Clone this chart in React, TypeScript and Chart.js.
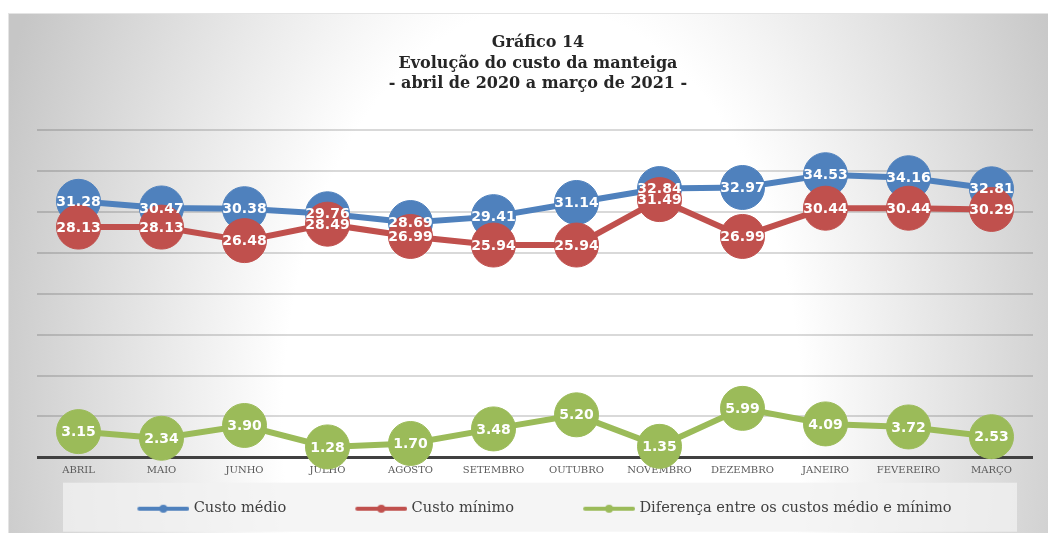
import React, { useEffect, useRef } from "react";
import { Chart, registerables } from "chart.js";

Chart.register(...registerables);

const MONTHS = ["ABRIL", "MAIO", "JUNHO", "JULHO", "AGOSTO", "SETEMBRO", "OUTUBRO", "NOVEMBRO", "DEZEMBRO", "JANEIRO", "FEVEREIRO", "MARÇO"];
const CUSTO_MEDIO = [31.28, 30.47, 30.38, 29.76, 28.69, 29.41, 31.14, 32.84, 32.97, 34.53, 34.16, 32.81];
const CUSTO_MINIMO = [28.13, 28.13, 26.48, 28.49, 26.99, 25.94, 25.94, 31.49, 26.99, 30.44, 30.44, 30.29];
const DIFERENCA = [3.15, 2.34, 3.9, 1.28, 1.7, 3.48, 5.2, 1.35, 5.99, 4.09, 3.72, 2.53];
const SERIES_NAMES = ["Custo médio", "Custo mínimo", "Diferença entre os custos médio e mínimo"];
const TITLE_LINES = ["Gráfico 14", "Evolução do custo da manteiga", "- abril de 2020 a março de 2021 -"];
const Y_MIN = 0;
const Y_MAX = 40;
const Y_STEP = 5;

const COLORS = ["#4f81bd", "#c0504d", "#9bbb59"];

function legendMarker(color: string) {
  const c = document.createElement("canvas");
  c.width = 112;
  c.height = 10;
  const ctx = c.getContext("2d")!;
  ctx.strokeStyle = color;
  ctx.lineWidth = 4;
  ctx.lineCap = "round";
  ctx.beginPath();
  ctx.moveTo(62, 5);
  ctx.lineTo(110, 5);
  ctx.stroke();
  ctx.fillStyle = color;
  ctx.beginPath();
  ctx.arc(86, 5, 4, 0, Math.PI * 2);
  ctx.fill();
  return c;
}

const valueLabels = {
  id: "valueLabels",
  afterDatasetsDraw(chart: any) {
    const ctx = chart.ctx;
    ctx.save();
    ctx.font = "bold 14px 'DejaVu Sans'";
    ctx.fillStyle = "#ffffff";
    ctx.textAlign = "center";
    ctx.textBaseline = "middle";
    chart.data.datasets.forEach((ds: any, i: number) => {
      const meta = chart.getDatasetMeta(i);
      meta.data.forEach((pt: any, j: number) => {
        ctx.fillText(Number(ds.data[j]).toFixed(2), pt.x, pt.y + 1);
      });
    });
    ctx.restore();
  },
};

const legendPanel = {
  id: "legendPanel",
  afterLayout(chart: any) {
    const lg = chart.legend;
    if (lg) {
      lg.left -= 22;
      lg.right -= 22;
    }
  },
  beforeDraw(chart: any) {
    const { ctx, chartArea } = chart;
    const lg = chart.legend;
    if (!lg) return;
    const cy = (lg.top + lg.bottom) / 2;
    ctx.save();
    ctx.fillStyle = "rgba(242,242,242,0.75)";
    ctx.fillRect(chartArea.left + 26, cy - 25, chartArea.right - chartArea.left - 42, 49);
    ctx.restore();
  },
};

export default function App() {
  const ref = useRef<HTMLCanvasElement>(null);

  useEffect(() => {
    if (!ref.current) return;
    const series = [CUSTO_MEDIO, CUSTO_MINIMO, DIFERENCA];
    const orders = [1, 0, 2];
    const chart = new Chart(ref.current, {
      type: "line",
      data: {
        labels: MONTHS,
        datasets: series.map((d, i) => ({
          label: SERIES_NAMES[i],
          data: d,
          borderColor: COLORS[i],
          backgroundColor: COLORS[i],
          pointBackgroundColor: COLORS[i],
          pointBorderColor: COLORS[i],
          borderWidth: 6,
          pointRadius: 22,
          pointBorderWidth: 1,
          pointHoverRadius: 22,
          tension: 0,
          clip: false as any,
          order: orders[i],
        })),
      },
      options: {
        responsive: false,
        animation: false,
        events: [],
        layout: { padding: { left: 29, right: 17, top: 0, bottom: 12 } },
        plugins: {
          title: {
            display: true,
            text: TITLE_LINES,
            color: "#262626",
            font: { family: "'DejaVu Serif'", weight: "bold", size: 16, lineHeight: 1.28 },
            padding: { top: 20, bottom: 35.5 },
          },
          legend: {
            display: true,
            position: "bottom",
            labels: {
              usePointStyle: true,
              pointStyleWidth: 106,
              padding: 12,
              color: "#404040",
              font: { family: "'DejaVu Serif'", size: 14.6 },
              sort: (a: any, b: any) => a.datasetIndex - b.datasetIndex,
              generateLabels: (chart: any) => {
                const items = Chart.defaults.plugins.legend.labels.generateLabels(chart);
                return items.map((it: any) => ({
                  ...it,
                  pointStyle: legendMarker(COLORS[it.datasetIndex]),
                }));
              },
            },
          },
          tooltip: { enabled: false },
        },
        scales: {
          x: {
            offset: true,
            grid: { display: false, drawTicks: false },
            border: { display: false },
            ticks: {
              color: "#595959",
              font: { family: "'DejaVu Serif'", size: 10 },
              padding: 7,
              maxRotation: 0,
              autoSkip: false,
            },
            afterFit: (scale: any) => {
              scale.height = 32;
            },
          },
          y: {
            min: Y_MIN,
            max: Y_MAX,
            ticks: { display: false, stepSize: Y_STEP },
            border: { display: false },
            grid: {
              drawTicks: false,
              color: (c: any) => (c.tick && c.tick.value === 0 ? "#404040" : "rgba(0,0,0,0.15)"),
              lineWidth: (c: any) => (c.tick && c.tick.value === 0 ? 3 : 2),
            },
            afterFit: (scale: any) => {
              scale.width = 0;
            },
          },
        },
      },
      plugins: [valueLabels, legendPanel],
    } as any);
    return () => chart.destroy();
  }, []);

  return (
    <div
      style={{
        position: "relative",
        top: 5,
        width: 1048,
        height: 525,
        background:
          "radial-gradient(ellipse 55% 175% at 51% 77.5%, #ffffff 0%, #ffffff 45%, #c6c6c6 100%)",
        boxShadow: "inset 1px 1px 0 #e4e4e4",
      }}
    >
      <canvas ref={ref} width={1048} height={525} style={{ display: "block" }} />
    </div>
  );
}
